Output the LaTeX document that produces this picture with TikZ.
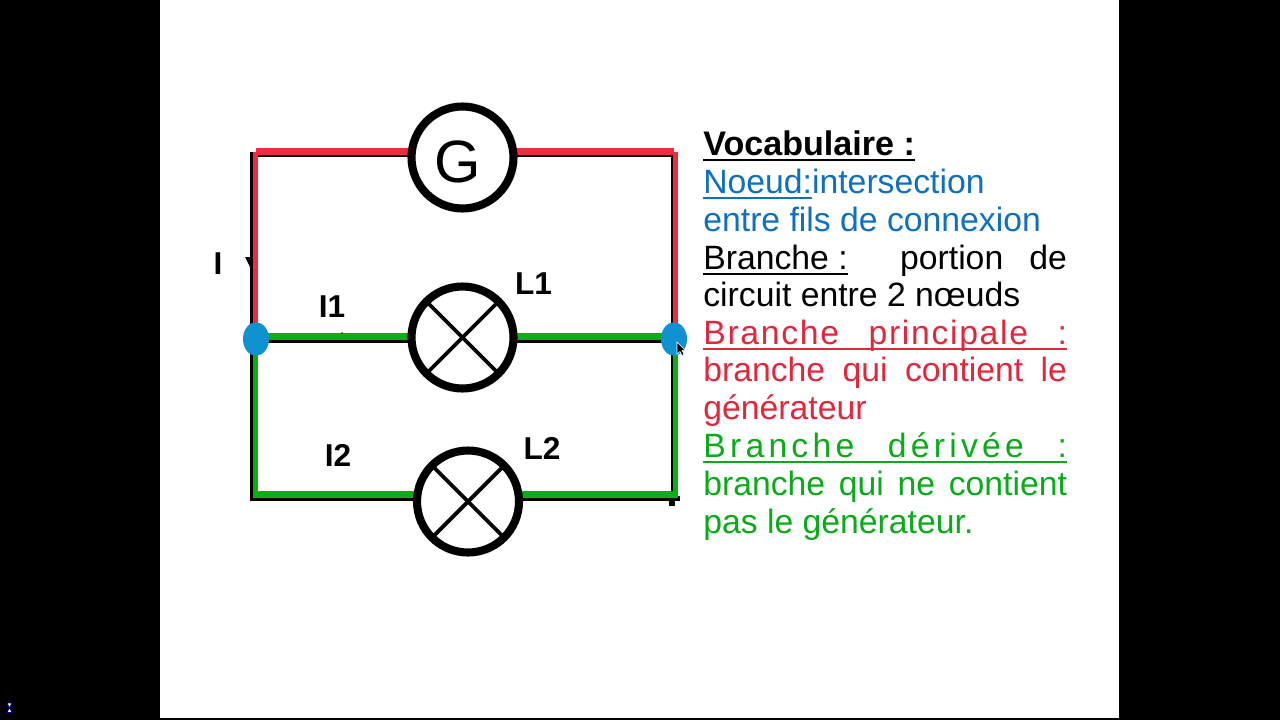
\documentclass[tikz,border=0pt]{standalone}
\usepackage{fontspec}
\setmainfont{Liberation Sans}
\usetikzlibrary{shapes.geometric,backgrounds}

\definecolor{rouge}{RGB}{238,43,63}
\definecolor{rougetexte}{RGB}{228,38,60}
\definecolor{vert}{RGB}{9,176,20}
\definecolor{verttexte}{RGB}{10,170,25}
\definecolor{bleu}{RGB}{17,146,208}
\definecolor{bleutexte}{RGB}{15,112,192}

\newcommand{\souligne}[1]{\setbox0\hbox{#1}\rlap{\rule[-3.2pt]{\wd0}{1.1pt}}\box0}
\newcommand{\justifie}[1]{\hbox to 207pt{#1}}

\tikzset{
    ligne/.style={anchor=base west,inner sep=0pt,font=\fontsize{19.2}{21}\selectfont},
    etiquette/.style={anchor=base,inner sep=0pt,font=\fontsize{18}{21}\selectfont\bfseries},
    dipole/.style={circle,draw,fill=white,line width=4.6pt,minimum size=2.04cm,inner sep=0pt,outer sep=0pt},
    noeud/.style={ellipse,fill=bleu,minimum width=0.52cm,minimum height=0.67cm,inner sep=0pt},
    croix/.style={line width=2.2pt},
    filnoir/.style={line width=1.6pt,black},
    filrougeh/.style={line width=4pt,rouge},
    filrougev/.style={line width=3pt,rouge},
    filverth/.style={line width=4pt,vert},
    filvertv/.style={line width=3pt,vert}
}

\begin{document}
\begin{tikzpicture}[x=0.02cm,y=-0.02cm]
    \useasboundingbox (0,0) rectangle (1280,720);

    % Les dipoles et les noeuds
    \node[dipole] (gen) at (462.5,157.5) {};
    \node[dipole] (lampe1) at (462.5,337.5) {};
    \node[dipole] (lampe2) at (468,501.5) {};
    \node[noeud] (noeudG) at (256,339) {};
    \node[noeud] (noeudD) at (674,339) {};
    \node at (gen) [anchor=center,inner sep=0pt,yshift=-2.5pt,xshift=-3pt,font=\fontsize{34}{35}\selectfont] (lettreG) {G};

    % Les croix des lampes
    \draw[croix] (lampe1.north west) -- (lampe1.south east);
    \draw[croix] (lampe1.north east) -- (lampe1.south west);
    \draw[croix] (lampe2.north west) -- (lampe2.south east);
    \draw[croix] (lampe2.north east) -- (lampe2.south west);

    % Les coins du circuit
    \coordinate (hautG) at (255.5,151.5);
    \coordinate (hautD) at (675.5,151.5);
    \coordinate (basG) at (255.5,494.5);
    \coordinate (basD) at (675.5,494.5);
    \coordinate (noirHG) at (251.5,152);
    \coordinate (noirHD) at (672,152);
    \coordinate (noirBG) at (251.5,499.5);
    \coordinate (noirBD) at (672,499.5);

    \begin{scope}[on background layer]
        \fill[black] (0,0) rectangle (1280,720);
        \fill[white] (160,0) rectangle (1118.5,718);

        % Dessine les fils noirs
        \draw[filnoir] (noirHG) -- (noirBG);
        \draw[filnoir] (noirHD) -- (noirBD);
        \draw[filnoir] (251,156) -- (673,156);
        \draw[filnoir] (250,499.5) -- (noirBD);
        \draw[filnoir] ([yshift=-1.2pt]noeudG.center) -- ([yshift=-1.2pt]noeudD.center);
        \fill[black] (669,496) rectangle (680,500.5);
        \fill[black] (669,500) rectangle (675,506);

        % Dessine la branche principale
        \draw[filrougeh] (hautG) -- (674,151.5);
        \draw[filrougev] (hautG) -- (noeudG.center -| hautG);
        \draw[filrougev] (hautD) -- (noeudD.center -| hautD);

        % Dessine les branches derivees
        \draw[filverth] ([yshift=1.4pt]noeudG.center) -- ([yshift=1.4pt]noeudD.center);
        \draw[filvertv] (noeudG.center -| basG) -- (basG);
        \draw[filvertv] (noeudD.center -| basD) -- (basD);
        \draw[filverth] (253,494.5) -- (678,494.5);

        % La fleche cachee et le point
        \fill[black] (245,257) -- (253,257) -- (252.5,272) -- cycle;
        \fill[black] (342,333) circle (0.8);
    \end{scope}

    % Les curseurs
    \draw[fill=black,draw=white,line width=0.3pt] (677,342) -- (677,354) -- (680,351.5) -- (682,355.5) -- (684,354.5) -- (682,350.5) -- (685,350) -- cycle;
    \draw[fill=white,draw=blue!70!black,line width=0.4pt] (7,703) -- (12,703) -- (7,712.5) -- (12,712.5) -- cycle;

    % Les etiquettes
    \node[etiquette] (courant) at (218,274) {I};
    \node[etiquette] (courant1) at (332,317) {I1};
    \node[etiquette] (courant2) at (338,466.5) {I2};
    \node[etiquette] (nomL1) at (533.5,294.5) {L1};
    \node[etiquette] (nomL2) at (542,459) {L2};

    % Le vocabulaire
    \node[ligne,font=\fontsize{19.4}{21}\selectfont] (voc) at (703,155) {\bfseries\souligne{Vocabulaire :}};
    \node[ligne,text=bleutexte] (def1) at (703,193.5) {\souligne{Noeud:}intersection};
    \node[ligne,text=bleutexte] (def1b) at (703,231) {entre fils de connexion};
    \node[ligne] (def2) at (703,269) {\justifie{\souligne{Branche :}\hfill\hfill portion\hfill de}};
    \node[ligne] (def2b) at (703,306) {circuit entre 2 nœuds};
    \node[ligne,text=rougetexte] (def3) at (703,344) {\addfontfeature{LetterSpace=5}\souligne{\justifie{Branche\hfill principale\hfill :}}};
    \node[ligne,text=rougetexte] (def3b) at (703,381.5) {\justifie{branche\hfill qui\hfill contient\hfill le}};
    \node[ligne,text=rougetexte] (def3c) at (703,419) {générateur};
    \node[ligne,text=verttexte] (def4) at (703,457) {\addfontfeature{LetterSpace=12.5}\souligne{\justifie{Branche\hfill dérivée\hfill :}}};
    \node[ligne,text=verttexte] (def4b) at (703,495) {\justifie{branche\hfill qui\hfill ne\hfill contient}};
    \node[ligne,text=verttexte] (def4c) at (703,533) {pas le générateur.};
\end{tikzpicture}
\end{document}
